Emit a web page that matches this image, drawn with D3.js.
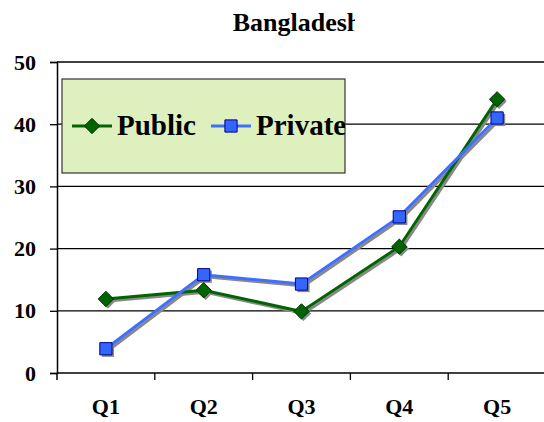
<!DOCTYPE html>
<html><head><meta charset="utf-8">
<script src="https://cdn.jsdelivr.net/npm/d3@7"></script>
<style>body{margin:0;background:#fff}svg{display:block}</style>
</head><body><svg id="c" width="544" height="422"></svg>
<script>
const categories = ["Q1","Q2","Q3","Q4","Q5"];
const publicVals = [11.9, 13.3, 9.9, 20.3, 44.0];
const privateVals = [3.9, 15.8, 14.3, 25.1, 41.0];
const yTicks = [0,10,20,30,40,50];
const title = "Bangladesh";

const svg = d3.select("#c");
const font = "'Liberation Serif','Times New Roman',serif";
const L = 57, R = 546, T = 62, B = 373;
const x = d3.scaleBand().domain(categories).range([L, R]);
const y = d3.scaleLinear().domain([0,50]).range([B, T]);

// gridlines
svg.append("g").selectAll("line").data(yTicks.filter(d=>d>0)).join("line")
  .attr("x1", L).attr("x2", 544).attr("y1", d=>y(d)).attr("y2", d=>y(d))
  .attr("stroke","#000").attr("stroke-width",1.3);

// axes
const yAxis = svg.append("g").attr("transform",`translate(${L},0)`)
  .call(d3.axisLeft(y).tickValues(yTicks).tickSize(7).tickPadding(14));
const xAxis = svg.append("g").attr("transform",`translate(0,${B})`)
  .call(d3.axisBottom(x).tickSize(0).tickPadding(25));
[yAxis, xAxis].forEach(a=>{
  a.select(".domain").attr("stroke","#000").attr("stroke-width",1.5);
  a.selectAll("text").attr("font-family",font).attr("font-weight","bold").attr("font-size","22px").attr("fill","#000");
  a.selectAll("line").attr("stroke","#000").attr("stroke-width",1.3);
});
xAxis.select(".domain").attr("d",`M${L},0H544`);
// x ticks at boundaries
svg.append("g").selectAll("line").data(categories.slice(1)).join("line")
  .attr("x1", d=>x(d)).attr("x2", d=>x(d)).attr("y1", B).attr("y2", B+7)
  .attr("stroke","#000").attr("stroke-width",1.3);
svg.append("line").attr("x1",L).attr("x2",L).attr("y1",B).attr("y2",B+7).attr("stroke","#000").attr("stroke-width",1.5);

// legend box
const lg = svg.append("g");
lg.append("rect").attr("x",62).attr("y",79).attr("width",283).attr("height",94)
  .attr("fill","#DFF0BF").attr("stroke","#333").attr("stroke-width",1.2);

const cx = d => x(d) + x.bandwidth()/2;
const line = d3.line().x((d,i)=>cx(categories[i])).y(d=>y(d));
const series = [
  {name:"Public", vals:publicVals, color:"#006400", fill:"#006400", stroke:"#003000", shape:d3.symbolDiamond2, size:150},
  {name:"Private", vals:privateVals, color:"#3F6FFF", fill:"#3366FF", stroke:"#00008B", shape:d3.symbolSquare2, size:190}
];
// shadows
series.forEach(s=>{
  const g = svg.append("g").attr("transform","translate(2,2)");
  g.append("path").attr("d",line(s.vals)).attr("fill","none").attr("stroke","#888").attr("stroke-width",3);
  g.selectAll("path.m").data(s.vals).join("path").attr("class","m")
    .attr("d", d3.symbol().type(s.shape).size(s.size))
    .attr("transform",(d,i)=>`translate(${cx(categories[i])},${y(d)})`).attr("fill","#888");
});
series.forEach(s=>{
  svg.append("path").attr("d",line(s.vals)).attr("fill","none").attr("stroke",s.color).attr("stroke-width",3);
  svg.append("g").selectAll("path").data(s.vals).join("path")
    .attr("d", d3.symbol().type(s.shape).size(s.size))
    .attr("transform",(d,i)=>`translate(${cx(categories[i])},${y(d)})`)
    .attr("fill",s.fill).attr("stroke",s.stroke).attr("stroke-width",1);
});

// legend entries
const lx = [72, 211], tx = [117, 256];
lg.append("clipPath").attr("id","lgclip").append("rect").attr("x",0).attr("y",0).attr("width",345).attr("height",422);
series.forEach((s,i)=>{
  lg.append("line").attr("x1",lx[i]).attr("x2",lx[i]+40).attr("y1",126).attr("y2",126).attr("stroke",s.color).attr("stroke-width",3);
  lg.append("path").attr("d",d3.symbol().type(s.shape).size(s.size)).attr("transform",`translate(${lx[i]+20},126)`)
    .attr("fill",s.fill).attr("stroke",s.stroke).attr("stroke-width",1);
  lg.append("text").attr("x",tx[i]).attr("y",135).text(s.name)
    .attr("font-family",font).attr("font-weight","bold").attr("font-size","29px").attr("fill","#000")
    .attr("clip-path","url(#lgclip)");
});

// title (clipped at the right like the original)
svg.append("clipPath").attr("id","tclip").append("rect").attr("x",0).attr("y",0).attr("width",355).attr("height",60);
svg.append("text").attr("x",297).attr("y",31).attr("text-anchor","middle").text(title)
  .attr("font-family",font).attr("font-weight","bold").attr("font-size","26px").attr("fill","#000")
  .attr("clip-path","url(#tclip)");
</script></body></html>
